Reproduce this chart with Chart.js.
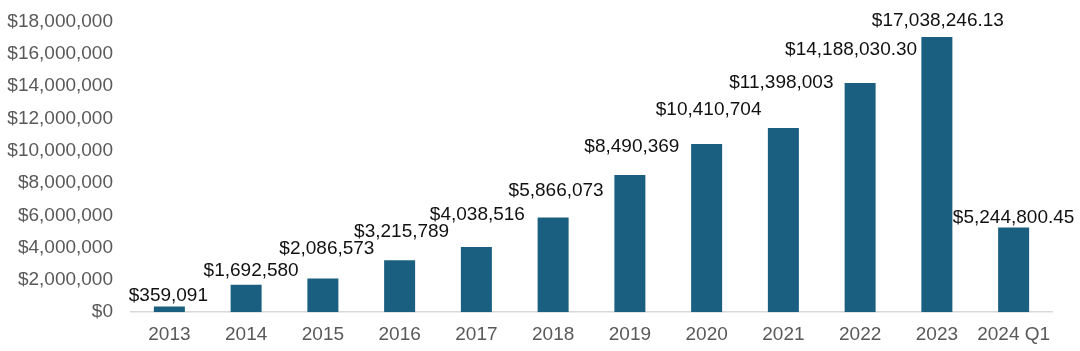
<!DOCTYPE html>
<html>
<head>
<meta charset="utf-8">
<script src="https://cdn.jsdelivr.net/npm/chart.js@4"></script>
<style>
  html, body { margin: 0; padding: 0; background: #fff; }
  #wrap { width: 1080px; height: 351px; }
</style>
</head>
<body>
<div id="wrap"><canvas id="chart"></canvas></div>
<script>
// ==== Data ====
const years = ["2013", "2014", "2015", "2016", "2017", "2018", "2019", "2020", "2021", "2022", "2023", "2024 Q1"];
const revenue = [359091, 1692580, 2086573, 3215789, 4038516, 5866073, 8490369, 10410704, 11398003, 14188030.30, 17038246.13, 5244800.45];
const yTicks = [0, 2000000, 4000000, 6000000, 8000000, 10000000, 12000000, 14000000, 16000000, 18000000];

// label nudges (px), the labels in the source were placed by hand
const labelGap = [5, 9, 24, 23, 27, 21, 23, 29, 40, 28, 11, 4];
const labelDx = [-1, 5, 4, 2, 1, 3, 2, 2, -2, -9, 1, 0];

const FONT = "'Liberation Sans', Arial, sans-serif";

function money(v) {
  const cents = !Number.isInteger(v);
  return "$" + v.toLocaleString("en-US", {
    minimumFractionDigits: cents ? 2 : 0,
    maximumFractionDigits: cents ? 2 : 0
  });
}

// ==== Value labels ====
const valueLabels = {
  id: "valueLabels",
  afterDatasetsDraw(chart) {
    const ctx = chart.ctx;
    const bars = chart.getDatasetMeta(0).data;
    ctx.save();
    ctx.font = "19px " + FONT;
    ctx.fillStyle = "#111";
    ctx.textAlign = "center";
    ctx.textBaseline = "alphabetic";
    bars.forEach((bar, i) => {
      ctx.fillText(money(revenue[i]), bar.x + labelDx[i], bar.y - labelGap[i]);
    });
    ctx.restore();
  }
};

// ==== Chart ====
new Chart(document.getElementById("chart"), {
  type: "bar",
  data: {
    labels: years,
    datasets: [{
      data: revenue,
      backgroundColor: "#1A5F80",
      borderWidth: 0,
      categoryPercentage: 1,
      barPercentage: 0.404
    }]
  },
  options: {
    responsive: true,
    maintainAspectRatio: false,
    animation: false,
    devicePixelRatio: 1,
    layout: { padding: { top: 6, right: 28, bottom: 2, left: 0 } },
    plugins: {
      legend: { display: false },
      tooltip: { enabled: false }
    },
    scales: {
      x: {
        grid: { display: false },
        border: { display: true, color: "#D9D9D9", width: 1.5 },
        ticks: { color: "#595959", font: { family: FONT, size: 19 }, padding: 3, maxRotation: 0 }
      },
      y: {
        min: 0,
        max: 18000000,
        afterBuildTicks(scale) {
          scale.ticks = yTicks.map(v => ({ value: v }));
        },
        afterFit(scale) { scale.width = 131; },
        grid: { display: false },
        border: { display: false },
        ticks: {
          color: "#595959",
          font: { family: FONT, size: 19 },
          padding: 10,
          callback: v => money(v)
        }
      }
    }
  },
  plugins: [valueLabels]
});
</script>
</body>
</html>
